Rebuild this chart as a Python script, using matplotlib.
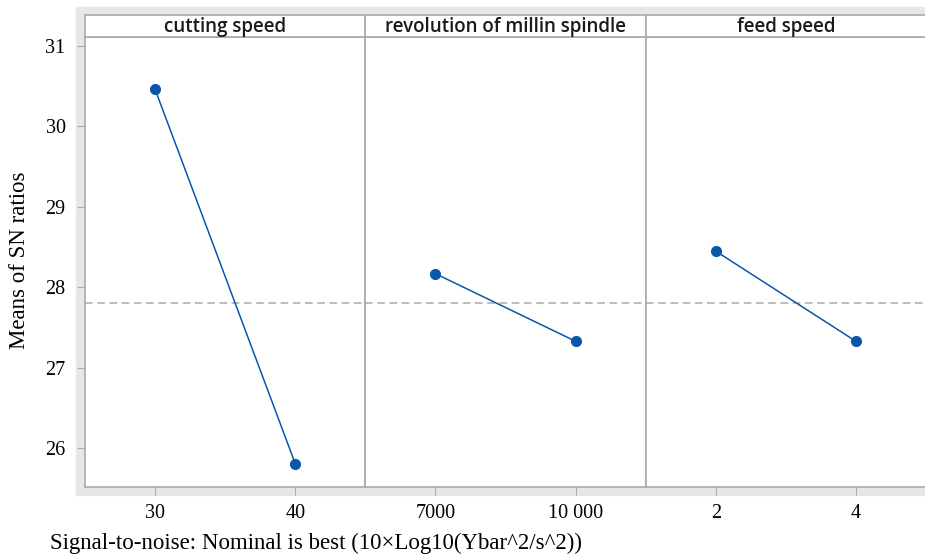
import matplotlib.pyplot as plt
from matplotlib.patches import Rectangle

factors = ['cutting speed', 'revolution of millin spindle', 'feed speed']
levels = [['30', '40'], ['7000', '10 000'], ['2', '4']]
sn_means = [[30.46, 25.81], [28.17, 27.33], [28.45, 27.33]]
overall_mean = 27.8

W, H = 925, 558
fig = plt.figure(figsize=(W / 100, H / 100), dpi=100)

# gray frame behind the panels
fig.patches.append(Rectangle((76 / W, 1 - 495 / H), (W - 76) / W, (495 - 7) / H,
                             transform=fig.transFigure, color='#e6e7e8', zorder=-10))

left, right = 85, 926
top, bottom = 37, 487
pw = (right - left) / 3
grid = '#aaaaaa'
blue = '#0a56a8'

for i, name in enumerate(factors):
    ax = fig.add_axes([(left + i * pw) / W, 1 - bottom / H, pw / W, (bottom - top) / H])
    ax.plot([0, 1], sn_means[i], color=blue, lw=1.1, marker='o', ms=7, zorder=3)
    ax.axhline(overall_mean, color=grid, ls=(0, (5, 3)), lw=1.1, zorder=1)
    ax.set_xlim(-0.5, 1.5)
    ax.set_ylim(25.52, 31.11)
    ax.set_xticks([0, 1])
    ax.set_xticklabels(levels[i], family='Liberation Serif', fontsize=14.5)
    ax.tick_params(axis='x', length=6, color=grid, pad=6)
    for s in ax.spines.values():
        s.set_color(grid)
        s.set_linewidth(1.2)
    if i == 0:
        ax.set_yticks([26, 27, 28, 29, 30, 31])
        for lbl in ax.get_yticklabels():
            lbl.set_family('Liberation Serif')
            lbl.set_fontsize(14.5)
        ax.tick_params(axis='y', length=6, color=grid, pad=8)
    else:
        ax.set_yticks([])

    # strip header
    sx = fig.add_axes([(left + i * pw) / W, 1 - top / H, pw / W, 22 / H])
    sx.set_xticks([])
    sx.set_yticks([])
    for s in sx.spines.values():
        s.set_color(grid)
        s.set_linewidth(1.2)
    sx.text(0.5, 0.45, name, ha='center', va='center', fontsize=13.5,
            family='Open Sans', weight='semibold', color='#1a1a1a', transform=sx.transAxes)

fig.text(20 / W, 1 - 260 / H, 'Means of SN ratios', rotation=90, ha='center', va='center',
         family='Liberation Serif', fontsize=16.5)
fig.text(50 / W, 1 - 543 / H, 'Signal-to-noise: Nominal is best (10\u00d7Log10(Ybar^2/s^2))',
         ha='left', va='center', family='Liberation Serif', fontsize=16.5)

fig.savefig('out.png', dpi=100)
